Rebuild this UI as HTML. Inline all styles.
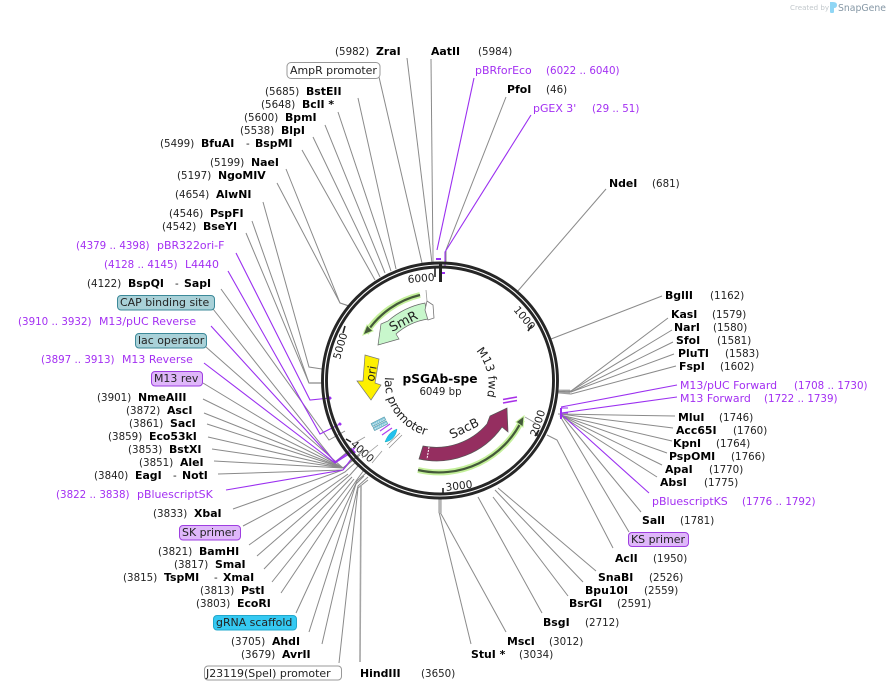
<!DOCTYPE html>
<html><head><meta charset="utf-8"><style>
html,body{margin:0;padding:0;background:#fff}
svg{display:block}
text{font-family:"DejaVu Sans","Liberation Sans",sans-serif;font-size:10.3px;fill:#222}
.b{font-weight:bold;fill:#000;font-size:10.9px}
.p{fill:#a32ff2}
.m{font-size:10.95px}
.g{fill:none;stroke:#8a8a8a;stroke-width:1}
.v{fill:none;stroke:#9b30f0;stroke-width:1.1}
</style></head><body>
<svg width="887" height="690" viewBox="0 0 887 690" xmlns="http://www.w3.org/2000/svg">
<!-- connectors -->
<g class="g">
<path d="M407 58L432 263"/><path d="M431 59L433 263"/><path d="M379 77L422 263"/>
<path d="M358 98L396 269"/><path d="M338 112L391 271"/><path d="M325 125L385 273"/><path d="M313 137L380 277"/><path d="M302 150L375 280"/>
<path d="M286 169L340 303L349 306"/><path d="M277 183L340 303L349 306"/>
<path d="M263 202L309 367L322 369"/><path d="M252 221L309 383L322 383"/><path d="M246 233L309 383L322 383"/>
<path d="M221 289L329 440L345 431"/><path d="M213 309L335 462L352 448"/><path d="M206 347L343 468L360 455"/><path d="M203 383L343 468L364 450"/>
<path d="M203 399L343 468"/><path d="M204 413L343 468"/><path d="M207 424L343 468"/><path d="M208 437L343 468"/><path d="M212 449L343 468"/><path d="M214 461L343 468"/><path d="M218 474L343 470"/>
<path d="M233 509L343 470L352 460"/><path d="M243 526L345 472L356 462"/><path d="M249 545L348 474"/><path d="M257 556L350 475L358 466"/><path d="M264 569L352 477"/><path d="M272 582L354 479"/><path d="M281 593L356 481L364 470"/>
<path d="M296 613L357 481L366 473"/><path d="M309 632L356 484L364 476"/><path d="M322 644L358 486L368 477"/><path d="M339 663L358 488L368 480"/>
<path d="M360 662L361 485" stroke-width="1.6" style="stroke:#a5a5a5"/>
<path d="M506 97L446 250L446 263"/>
<path d="M606 189L517 292"/><path d="M662 296L551 339"/>
<path d="M668 318L571 391L558 390"/><path d="M672 330L571 391L558 390"/><path d="M673 342L571 392L558 391"/><path d="M674 354L571 392L558 392"/><path d="M676 366L571 394L558 393"/>
<path d="M675 416L558 414"/><path d="M673 428L560 414"/><path d="M672 441L560 415"/><path d="M667 453L560 415"/><path d="M662 465L560 415"/><path d="M657 477L560 415"/>
<path d="M641 512L562 416"/><path d="M629 532L560 416"/><path d="M613 548L557 440L547 435"/>
<path d="M596 571L498 488"/><path d="M583 582L495 490"/><path d="M568 596L493 497"/><path d="M542 613L478 497"/><path d="M506 632L440 512"/><path d="M471 644L439 512"/>
</g>
<path d="M440 498V513" stroke="#b5b5b5" stroke-width="3.5" fill="none"/>
<path d="M433 245V263" stroke="#bbb" stroke-width="1.5" fill="none"/>
<path d="M309 383H322" stroke="#b5b5b5" stroke-width="2" fill="none"/>
<path d="M558 390H570M558 393H570" stroke="#b5b5b5" stroke-width="1" fill="none"/>
<g class="v">
<path d="M474 78L437 250"/><path d="M531 115L445 252L445 267"/>
<path d="M236 253L310 400L330 398"/><path d="M228 271L320 434L340 424"/><path d="M211 326L335 462L355 448"/><path d="M204 363L335 463L352 452"/><path d="M226 490L343 470L352 458"/>
<path d="M677 385L561 407"/><path d="M677 397L561 413"/><path d="M561 408V419" stroke-width="2"/><path d="M561 408H568M561 413H568" />
<path d="M649 493L561 414"/>
</g>
<path d="M436 259H441M442 273H445" stroke="#9b30f0" stroke-width="2" fill="none"/>
<path d="M329 397l2 2M339 423l2 2M351 449l4 4M356 457l2 2" stroke="#9b30f0" stroke-width="2.5" fill="none"/>
<!-- ring -->
<circle cx="440" cy="380.5" r="117.5" fill="none" stroke="#262626" stroke-width="2.9"/>
<circle cx="440" cy="380.5" r="113.500" fill="none" stroke="#262626" stroke-width="2.9"/>
<path d="M440.5 264V282" stroke="#222" stroke-width="3" fill="none"/>
<path d="M435 268V277M532 325l-4 6M535 436l4-6M443 488v6M346 439l5 3M343 333l2-7" stroke="#222" stroke-width="1.6" fill="none"/>
<text transform="translate(408 283) rotate(-5)" style="font-size:10.6px">6000</text>
<text transform="translate(513 310) rotate(50)" style="font-size:10.6px">1000</text>
<text transform="translate(537 437) rotate(-72)" style="font-size:10.6px">2000</text>
<text transform="translate(446 491) rotate(-7)" style="font-size:10.6px">3000</text>
<text transform="translate(350 445) rotate(42)" style="font-size:10.6px">4000</text>
<text transform="translate(340 360) rotate(-74)" style="font-size:10.6px">5000</text>
<!-- green primer arcs -->
<path d="M420 295A88 88 0 0 0 366 333" fill="none" stroke="#c4f09a" stroke-width="6"/>
<path d="M420 295A88 88 0 0 0 367 332" fill="none" stroke="#44593a" stroke-width="2.2"/>
<path d="M363 335L367 325L373 331Z" fill="#44593a" stroke="#c4f09a" stroke-width="1"/>
<path d="M418 470A92 92 0 0 0 522 420" fill="none" stroke="#c4f09a" stroke-width="6"/>
<path d="M418 470A92 92 0 0 0 522 420" fill="none" stroke="#44593a" stroke-width="2.2"/>
<path d="M524 416L523 427L516 422Z" fill="#44593a" stroke="#c4f09a" stroke-width="1"/>
<!-- SmR -->
<path d="M425 303A78.5 78.5 0 0 0 388 321L381 324L378 345L399 339L396 334A62 62 0 0 1 428 319Z" fill="#c8f7cc" stroke="#666" stroke-width=".7"/>
<path d="M427 301L433 305L434 318L428 320L425 310Z" fill="#fff" stroke="#777" stroke-width=".8"/>
<text transform="translate(392 332) rotate(-27)" style="font-size:13px">SmR</text>
<!-- ori -->
<path d="M365 355L379 359L375 383L381 385L371 400L357 381L363 381Z" fill="#fdf000" stroke="#777" stroke-width=".7"/>
<text transform="translate(374 382) rotate(-80)" style="font-size:12px">ori</text>
<!-- SacB -->
<path d="M423 446A67 67 0 0 0 487 424L490 416L507 408L508 432L502 427A80 80 0 0 1 419 459Z" fill="#952e60" stroke="#555" stroke-width=".7"/>
<path d="M429 447L427 459" stroke="#fff" stroke-width="1" stroke-dasharray="2 1" fill="none"/>
<text transform="translate(452 439) rotate(-26)" style="font-size:12.5px">SacB</text>
<!-- curved labels -->
<defs>
<path id="lacp" d="M385 377A56 56 0 0 0 434 437"/>
<path id="m13f" d="M476 351A50 50 0 0 1 486 400"/>
</defs>
<text style="font-size:12px"><textPath href="#lacp">lac promoter</textPath></text>
<text style="font-size:11.5px"><textPath href="#m13f">M13 fwd</textPath></text>
<!-- centre -->
<text x="440" y="383" text-anchor="middle" class="b" style="font-size:12.2px">pSGAb-spe</text>
<text x="440.5" y="395" text-anchor="middle" style="font-size:10.2px">6049 bp</text>
<!-- small features -->
<g transform="rotate(-27 379 424)"><rect x="372" y="420" width="15" height="3.5" fill="#7fc4d8" stroke="#4a8a99" stroke-width=".4"/><rect x="372" y="424.500" width="15" height="3.5" fill="#7fc4d8" stroke="#4a8a99" stroke-width=".4"/><path d="M373 422H386M373 426.500H386" stroke="#fff" stroke-dasharray="1 1" fill="none"/></g>
<path d="M380 431L390 424M382 435L392 428" stroke="#b040f0" stroke-width="1.2" fill="none"/>
<path d="M385 442C388 434 392 431 397 429C396 436 392 441 385 442Z" fill="#22c0ee" stroke="#0aa" stroke-width=".4"/>
<path d="M387 445L400 433M389 448L402 435" stroke="#888" stroke-width=".7" fill="none"/>
<path d="M503 399.500L517 397M503 403L517 400.500" stroke="#a830e8" stroke-width="1.6" fill="none"/>
<path d="M525 417L537 424" stroke="#999" stroke-width=".8" fill="none"/>
<path d="M427 301L426 290M365 437L353 444M378 445L362 458M382 451L372 463" stroke="#999" stroke-width=".8" fill="none"/>
<!-- boxes -->
<rect x="287" y="62.500" width="93" height="16" rx="4" fill="#fff" stroke="#999"/>
<rect x="117.500" y="295.500" width="97" height="14.500" rx="3.500" fill="#a9d1d8" stroke="#3c8999"/>
<rect x="135.500" y="333.500" width="71" height="14.500" rx="3.500" fill="#a9d1d8" stroke="#3c8999"/>
<rect x="151.500" y="371.500" width="51" height="14.500" rx="3.500" fill="#dfb7fa" stroke="#9e3ee0"/>
<rect x="179.500" y="525.500" width="61" height="14.500" rx="3.500" fill="#dfb7fa" stroke="#9e3ee0"/>
<rect x="213.500" y="615.500" width="83" height="14.500" rx="3.500" fill="#35c9f2" stroke="#22a8cc"/>
<rect x="204.500" y="666" width="137" height="14" rx="3.500" fill="#fff" stroke="#999"/>
<rect x="628.500" y="532.500" width="60" height="14" rx="3.500" fill="#dfb7fa" stroke="#9e3ee0"/>
<!-- labels -->
<text x="335" y="55">(5982)</text><text x="376" y="55" class="b">ZraI</text>
<text x="431" y="55" class="b">AatII</text><text x="478" y="55">(5984)</text>
<text x="290" y="74" class="m">AmpR promoter</text>
<text x="265" y="95">(5685)</text><text x="306" y="95" class="b">BstEII</text>
<text x="261" y="108">(5648)</text><text x="302" y="108" class="b">BclI *</text>
<text x="244" y="121">(5600)</text><text x="285" y="121" class="b">BpmI</text>
<text x="240" y="134">(5538)</text><text x="281" y="134" class="b">BlpI</text>
<text x="160" y="147">(5499)</text><text x="201" y="147" class="b">BfuAI</text><text x="246" y="147">-</text><text x="255" y="147" class="b">BspMI</text>
<text x="210" y="166">(5199)</text><text x="251" y="166" class="b">NaeI</text>
<text x="177" y="179">(5197)</text><text x="218" y="179" class="b">NgoMIV</text>
<text x="175" y="198">(4654)</text><text x="216" y="198" class="b">AlwNI</text>
<text x="169" y="217">(4546)</text><text x="210" y="217" class="b">PspFI</text>
<text x="162" y="230">(4542)</text><text x="203" y="230" class="b">BseYI</text>
<text x="76" y="249" class="p">(4379 .. 4398)</text><text x="157" y="249" class="p m">pBR322ori-F</text>
<text x="104" y="268" class="p">(4128 .. 4145)</text><text x="185" y="268" class="p m">L4440</text>
<text x="87" y="287">(4122)</text><text x="128" y="287" class="b">BspQI</text><text x="175" y="287">-</text><text x="184" y="287" class="b">SapI</text>
<text x="120" y="306" class="m">CAP binding site</text>
<text x="18" y="325" class="p">(3910 .. 3932)</text><text x="99" y="325" class="p m">M13/pUC Reverse</text>
<text x="138" y="344" class="m">lac operator</text>
<text x="41" y="363" class="p">(3897 .. 3913)</text><text x="122" y="363" class="p m">M13 Reverse</text>
<text x="154" y="382" class="m">M13 rev</text>
<text x="97" y="401">(3901)</text><text x="138" y="401" class="b">NmeAIII</text>
<text x="126" y="414">(3872)</text><text x="167" y="414" class="b">AscI</text>
<text x="129" y="427">(3861)</text><text x="170" y="427" class="b">SacI</text>
<text x="108" y="440">(3859)</text><text x="149" y="440" class="b">Eco53kI</text>
<text x="128" y="453">(3853)</text><text x="169" y="453" class="b">BstXI</text>
<text x="139" y="466">(3851)</text><text x="180" y="466" class="b">AleI</text>
<text x="94" y="479">(3840)</text><text x="135" y="479" class="b">EagI</text><text x="173" y="479">-</text><text x="182" y="479" class="b">NotI</text>
<text x="56" y="498" class="p">(3822 .. 3838)</text><text x="137" y="498" class="p m">pBluescriptSK</text>
<text x="153" y="517">(3833)</text><text x="194" y="517" class="b">XbaI</text>
<text x="182" y="536" class="m">SK primer</text>
<text x="158" y="555">(3821)</text><text x="199" y="555" class="b">BamHI</text>
<text x="174" y="568">(3817)</text><text x="215" y="568" class="b">SmaI</text>
<text x="123" y="581">(3815)</text><text x="164" y="581" class="b">TspMI</text><text x="214" y="581">-</text><text x="223" y="581" class="b">XmaI</text>
<text x="200" y="594">(3813)</text><text x="241" y="594" class="b">PstI</text>
<text x="196" y="607">(3803)</text><text x="237" y="607" class="b">EcoRI</text>
<text x="216" y="626" class="m">gRNA scaffold</text>
<text x="231" y="645">(3705)</text><text x="272" y="645" class="b">AhdI</text>
<text x="241" y="658">(3679)</text><text x="282" y="658" class="b">AvrII</text>
<text x="206" y="677" class="m">J23119(SpeI) promoter</text>
<text x="360" y="677" class="b">HindIII</text><text x="421" y="677">(3650)</text>
<text x="471" y="658" class="b">StuI *</text><text x="519" y="658">(3034)</text>
<text x="507" y="645" class="b">MscI</text><text x="549" y="645">(3012)</text>
<text x="543" y="626" class="b">BsgI</text><text x="585" y="626">(2712)</text>
<text x="569" y="607" class="b">BsrGI</text><text x="617" y="607">(2591)</text>
<text x="585" y="594" class="b">Bpu10I</text><text x="644" y="594">(2559)</text>
<text x="598" y="581" class="b">SnaBI</text><text x="649" y="581">(2526)</text>
<text x="615" y="562" class="b">AclI</text><text x="653" y="562">(1950)</text>
<text x="631" y="543" class="m">KS primer</text>
<text x="642" y="524" class="b">SalI</text><text x="680" y="524">(1781)</text>
<text x="652" y="505" class="p m">pBluescriptKS</text><text x="742" y="505" class="p">(1776 .. 1792)</text>
<text x="660" y="486" class="b">AbsI</text><text x="704" y="486">(1775)</text>
<text x="665" y="473" class="b">ApaI</text><text x="709" y="473">(1770)</text>
<text x="669" y="460" class="b">PspOMI</text><text x="731" y="460">(1766)</text>
<text x="673" y="447" class="b">KpnI</text><text x="716" y="447">(1764)</text>
<text x="676" y="434" class="b">Acc65I</text><text x="733" y="434">(1760)</text>
<text x="678" y="421" class="b">MluI</text><text x="719" y="421">(1746)</text>
<text x="680" y="402" class="p m">M13 Forward</text><text x="764" y="402" class="p">(1722 .. 1739)</text>
<text x="680" y="389" class="p m">M13/pUC Forward</text><text x="794" y="389" class="p">(1708 .. 1730)</text>
<text x="679" y="370" class="b">FspI</text><text x="720" y="370">(1602)</text>
<text x="678" y="357" class="b">PluTI</text><text x="725" y="357">(1583)</text>
<text x="676" y="344" class="b">SfoI</text><text x="717" y="344">(1581)</text>
<text x="674" y="331" class="b">NarI</text><text x="713" y="331">(1580)</text>
<text x="671" y="318" class="b">KasI</text><text x="712" y="318">(1579)</text>
<text x="665" y="299" class="b">BglII</text><text x="710" y="299">(1162)</text>
<text x="609" y="187" class="b">NdeI</text><text x="652" y="187">(681)</text>
<text x="533" y="112" class="p m">pGEX 3'</text><text x="592" y="112" class="p">(29 .. 51)</text>
<text x="507" y="93" class="b">PfoI</text><text x="546" y="93">(46)</text>
<text x="475" y="74" class="p m">pBRforEco</text><text x="546" y="74" class="p">(6022 .. 6040)</text>
<!-- logo -->
<text x="790" y="10" style="font-size:7.100px;fill:#c2c8cc">Created by</text>
<path d="M830 2h3q4 0 4 3t-3 3v4q0 1-2 1t-2-1Z" fill="#8fd6f5"/>
<text x="838" y="11" style="font-size:9.300px;fill:#8597a5">SnapGene</text>
</svg>
</body></html>
